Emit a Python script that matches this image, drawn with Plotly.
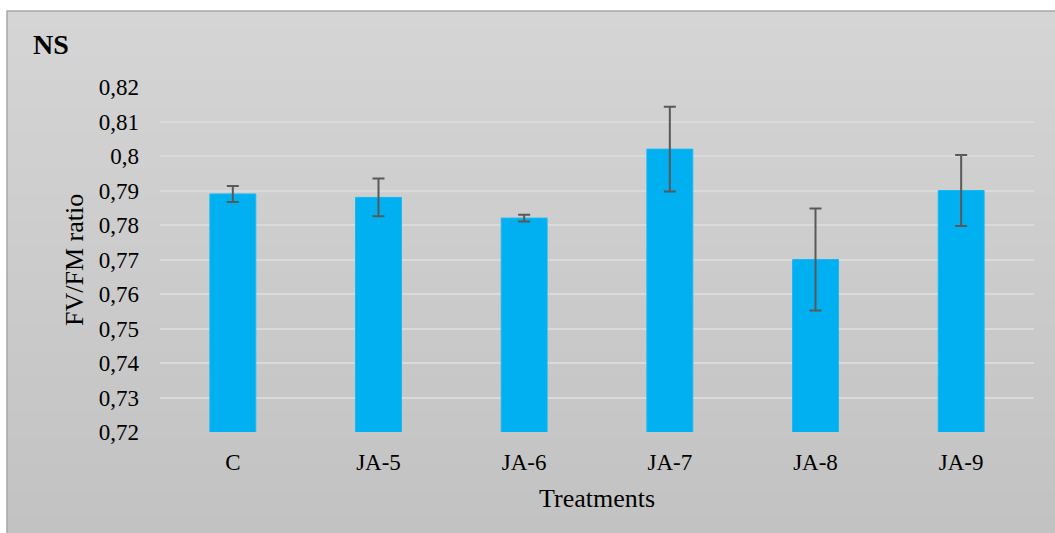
import plotly.graph_objects as go

# ---- data ----
treatments = ["C", "JA-5", "JA-6", "JA-7", "JA-8", "JA-9"]
fvfm = [0.789, 0.788, 0.782, 0.802, 0.770, 0.790]
fvfm_err = [0.0023, 0.0055, 0.0010, 0.0123, 0.0148, 0.0103]
ytick_vals = [0.72, 0.73, 0.74, 0.75, 0.76, 0.77, 0.78, 0.79, 0.80, 0.81, 0.82]
ytick_labels = ["0,72", "0,73", "0,74", "0,75", "0,76", "0,77", "0,78", "0,79", "0,8", "0,81", "0,82"]

W, H = 1055, 533
FONT = "Liberation Serif"

fig = go.Figure()
fig.add_trace(go.Bar(
    x=treatments, y=fvfm,
    marker=dict(color="#00B0F0", line=dict(color="#19b8f2", width=1)),
    width=0.315,
    error_y=dict(type="data", array=fvfm_err, visible=True,
                 color="#595959", thickness=2, width=6),
    showlegend=False,
))

# gradient background (paper coordinates)
shapes = []
top_frac = 1 - 11 / H
n = 60
c_top = (0xd5, 0xd5, 0xd5)
c_bot = (0xc2, 0xc2, 0xc2)
for i in range(n):
    t = i / (n - 1)
    col = tuple(round(c_top[k] + (c_bot[k] - c_top[k]) * t) for k in range(3))
    y1 = top_frac - top_frac * i / n
    y0 = top_frac - top_frac * (i + 1) / n
    shapes.append(dict(type="rect", xref="paper", yref="paper",
                       x0=7 / W, x1=1.01, y0=y0 - 0.002, y1=y1,
                       fillcolor="rgb(%d,%d,%d)" % col, line=dict(width=0),
                       layer="below"))
shapes.append(dict(type="rect", xref="paper", yref="paper",
                   x0=7 / W, x1=1.01, y0=-0.01, y1=top_frac,
                   fillcolor="rgba(0,0,0,0)",
                   line=dict(color="#a8a8a8", width=1.5), layer="below"))

fig.update_layout(
    width=W, height=H,
    margin=dict(l=0, r=0, t=0, b=0),
    paper_bgcolor="white",
    plot_bgcolor="rgba(0,0,0,0)",
    shapes=shapes,
    font=dict(family=FONT, color="#000000", size=23),
    xaxis=dict(domain=[160 / W, 1034 / W], showgrid=False, zeroline=False,
               showline=False, ticks="", ticklabelstandoff=14,
               tickfont=dict(family=FONT, size=23), automargin=False),
    yaxis=dict(domain=[1 - 432 / H, 1 - 87 / H], range=[0.72, 0.82],
               tickvals=ytick_vals, ticktext=ytick_labels,
               showgrid=True, gridcolor="#dadada", gridwidth=1.5,
               zeroline=False, showline=False, ticks="",
               ticklabelstandoff=20,
               tickfont=dict(family=FONT, size=23), automargin=False),
    annotations=[
        dict(text="<b>NS</b>", xref="paper", yref="paper",
             x=31 / W, y=1 - 45 / H, xanchor="left", yanchor="middle",
             showarrow=False, font=dict(family=FONT, size=28)),
        dict(text="FV/FM ratio", xref="paper", yref="paper",
             x=74 / W, y=1 - 260 / H, xanchor="center", yanchor="middle",
             textangle=-90, showarrow=False, font=dict(family=FONT, size=26)),
        dict(text="Treatments", xref="paper", yref="paper",
             x=597 / W, y=1 - 498 / H, xanchor="center", yanchor="middle",
             showarrow=False, font=dict(family=FONT, size=26)),
    ],
)

fig.write_html("out.html",
               config={"displayModeBar": False},
               post_script="document.body.style.margin='0px';")
